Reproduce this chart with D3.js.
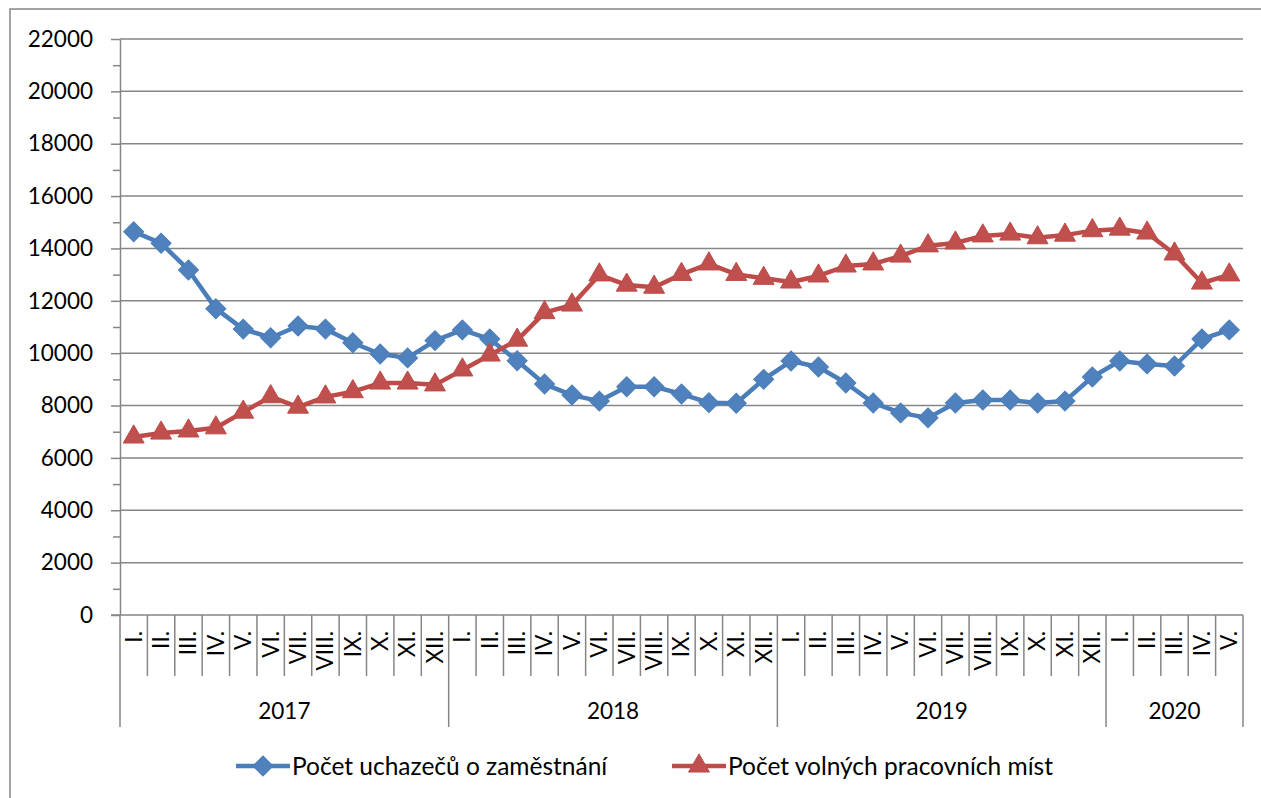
<!DOCTYPE html>
<html lang="cs">
<head>
    <meta charset="utf-8">
    <title>Uchazeči a volná místa</title>
    <style>
        body { margin: 0; background: #fff; }
        text { font-family: Lato, "Open Sans", sans-serif; fill: #000; }
        .grid line { stroke: #868686; stroke-width: 1.5px; }
        .axis path, .axis line { stroke: #868686; stroke-width: 1.5px; }
    </style>
</head>
<body>
<script src="https://cdn.jsdelivr.net/npm/d3@7"></script>
<script>

    var years = ["2017", "2018", "2019", "2020"];
    var monthsPerYear = [12, 12, 12, 5];
    var monthNames = ["I.", "II.", "III.", "IV.", "V.", "VI.", "VII.", "VIII.", "IX.", "X.", "XI.", "XII."];

    var uchazeci = [
        14640, 14200, 13180, 11700, 10920, 10590, 11040, 10920, 10400, 9970, 9820, 10480,
        10890, 10540, 9710, 8820, 8400, 8170, 8720, 8720, 8440, 8110, 8090, 9000,
        9700, 9470, 8860, 8100, 7720, 7530, 8100, 8210, 8210, 8100, 8170, 9090,
        9700, 9590, 9510, 10540, 10890
    ];
    var volnaMista = [
        6800, 6950, 7030, 7150, 7750, 8340, 7940, 8330, 8530, 8860, 8860, 8790,
        9360, 9930, 10500, 11550, 11840, 12990, 12600, 12520, 13010, 13410, 13010, 12860,
        12720, 12950, 13330, 13410, 13710, 14100, 14210, 14480, 14550, 14410, 14510, 14680,
        14740, 14590, 13790, 12680, 12990
    ];
    var seriesNames = ["Počet uchazečů o zaměstnání", "Počet volných pracovních míst"];
    var yTicks = [0, 2000, 4000, 6000, 8000, 10000, 12000, 14000, 16000, 18000, 20000, 22000];

    // category list built from the years / month counts
    var cats = [];
    years.forEach(function (y, i) {
        for (var m = 0; m < monthsPerYear[i]; m++) cats.push({year: y, month: monthNames[m]});
    });

    var W = 1261, H = 798;
    var plotLeft = 120, plotRight = 1243, plotTop = 39, plotBottom = 615;

    var svg = d3.select("body").append("svg")
        .attr("width", W)
        .attr("height", H);

    // outer chart border (runs off the bottom/right edge)
    svg.append("rect")
        .attr("x", 10).attr("y", 9)
        .attr("width", W + 20).attr("height", H + 20)
        .attr("fill", "#fff")
        .attr("stroke", "#868686")
        .attr("stroke-width", 1.5);

    var x = d3.scaleBand()
        .domain(d3.range(cats.length))
        .range([plotLeft, plotRight])
        .paddingInner(0).paddingOuter(0);

    var y = d3.scaleLinear()
        .domain([0, 22000])
        .range([plotBottom, plotTop]);

    var cx = function (i) { return x(i) + x.bandwidth() / 2; };

    // gridlines
    svg.append("g")
        .attr("class", "grid")
        .selectAll("line")
        .data(yTicks.filter(function (d) { return d > 0; }))
        .enter().append("line")
        .attr("x1", plotLeft).attr("x2", plotRight)
        .attr("y1", function (d) { return y(d); })
        .attr("y2", function (d) { return y(d); });

    // minor ticks
    var minor = d3.range(1000, 22000, 2000);
    svg.append("g")
        .attr("class", "axis")
        .attr("transform", "translate(" + plotLeft + ",0)")
        .call(d3.axisLeft(y).tickValues(minor).tickSize(7).tickFormat(""))
        .select(".domain").remove();

    // y axis
    var gy = svg.append("g")
        .attr("class", "axis")
        .attr("transform", "translate(" + plotLeft + ",0)")
        .call(d3.axisLeft(y).tickValues(yTicks).tickFormat(d3.format("d"))
            .tickSize(9).tickPadding(18).tickSizeOuter(0));
    gy.selectAll("text")
        .style("font-size", "22.5px")
        .style("font-family", "Lato, 'Open Sans', sans-serif");

    // x axis baseline
    svg.append("line")
        .attr("x1", plotLeft - 9).attr("x2", plotRight)
        .attr("y1", plotBottom).attr("y2", plotBottom)
        .attr("stroke", "#868686").attr("stroke-width", 1.5);

    // month / year separators
    var gx = svg.append("g").attr("class", "axis");
    var yearStarts = [0];
    monthsPerYear.forEach(function (n, i) { yearStarts.push(yearStarts[i] + n); });

    d3.range(cats.length + 1).forEach(function (i) {
        var isYear = yearStarts.indexOf(i) >= 0;
        var xx = i < cats.length ? x(i) : plotRight;
        gx.append("line")
            .attr("x1", xx).attr("x2", xx)
            .attr("y1", plotBottom).attr("y2", isYear ? 727 : 676);
    });

    // month labels
    svg.append("g")
        .selectAll("text")
        .data(cats)
        .enter().append("text")
        .attr("transform", function (d, i) { return "translate(" + cx(i) + ",631) rotate(-90)"; })
        .attr("text-anchor", "end")
        .attr("dy", "0.35em")
        .style("font-size", "22.5px")
        .text(function (d) { return d.month; });

    // year labels
    svg.append("g")
        .selectAll("text")
        .data(years)
        .enter().append("text")
        .attr("x", function (d, i) {
            var a = x(yearStarts[i]);
            var b = yearStarts[i + 1] < cats.length ? x(yearStarts[i + 1]) : plotRight;
            return (a + b) / 2;
        })
        .attr("y", 719)
        .attr("text-anchor", "middle")
        .style("font-size", "22.5px")
        .text(function (d) { return d; });

    var colors = [{line: "#4a7ebb", fill: "#4f81bd"}, {line: "#be4b48", fill: "#c0504d"}];
    var symbols = [d3.symbol().type(d3.symbolSquare).size(200), d3.symbol().type(d3.symbolTriangle).size(190)];
    var rot = [45, 0];

    var line = d3.line()
        .x(function (d, i) { return cx(i); })
        .y(function (d) { return y(d); });

    [uchazeci, volnaMista].forEach(function (data, s) {
        svg.append("path")
            .attr("d", line(data))
            .attr("fill", "none")
            .attr("stroke", colors[s].line)
            .attr("stroke-width", 4.5)
            .attr("stroke-linejoin", "round");
        svg.append("g")
            .selectAll("path")
            .data(data)
            .enter().append("path")
            .attr("d", symbols[s])
            .attr("transform", function (d, i) {
                return "translate(" + cx(i) + "," + y(d) + ") rotate(" + rot[s] + ")";
            })
            .attr("fill", colors[s].fill)
            .attr("stroke", colors[s].line)
            .attr("stroke-width", 1);
    });

    // legend
    var legendX = [236, 672];
    seriesNames.forEach(function (name, s) {
        var g = svg.append("g").attr("transform", "translate(" + legendX[s] + ",766)");
        g.append("line")
            .attr("x1", 0).attr("x2", 54)
            .attr("stroke", colors[s].line)
            .attr("stroke-width", 4.5);
        g.append("path")
            .attr("d", symbols[s])
            .attr("transform", "translate(27,0) rotate(" + rot[s] + ")")
            .attr("fill", colors[s].fill)
            .attr("stroke", colors[s].line);
        g.append("text")
            .attr("x", 56)
            .attr("dy", "0.35em")
            .style("font-size", "24.5px")
            .text(name);
    });

</script>
</body>
</html>
